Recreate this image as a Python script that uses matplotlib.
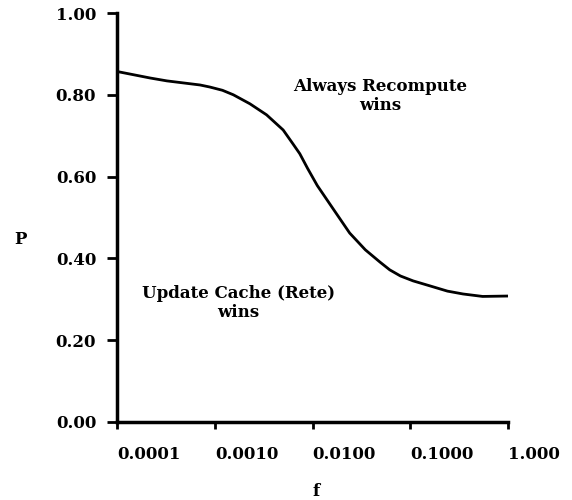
import numpy as np
import matplotlib
matplotlib.use('Agg')
from matplotlib import pyplot as plt

# values (f on a log scale)
f_vals = [1.0e-4, 2.19e-4, 3.24e-4, 7.08e-4, 8.91e-4, 1.20e-3, 1.55e-3, 2.29e-3,
          3.39e-3, 5.01e-3, 6.31e-3, 7.41e-3, 8.91e-3, 1.12e-2, 1.66e-2, 2.40e-2,
          3.47e-2, 4.90e-2, 6.17e-2, 7.94e-2, 0.107, 0.158, 0.240, 0.347, 0.550, 1.0]
p_vals = [0.857, 0.841, 0.834, 0.824, 0.819, 0.811, 0.800, 0.778,
          0.751, 0.714, 0.680, 0.656, 0.620, 0.578, 0.518, 0.462,
          0.421, 0.391, 0.372, 0.357, 0.345, 0.333, 0.320, 0.313, 0.307, 0.308]

x_ticks = [1e-4, 1e-3, 1e-2, 1e-1, 1.0]
x_tick_labels = ['0.0001', '0.0010', '0.0100', '0.1000', '1.000']
y_ticks = [0.0, 0.2, 0.4, 0.6, 0.8, 1.0]
y_tick_labels = ['0.00', '0.20', '0.40', '0.60', '0.80', '1.00']

plt.rcParams['font.family'] = ['DejaVu Serif']
plt.rcParams['font.weight'] = 'bold'

fig = plt.figure(figsize=(5.72, 5.0), dpi=100)
ax = fig.add_axes([117/572, 78/500, (508-117)/572, (422-13)/500])

ax.plot(f_vals, p_vals, color='black', linewidth=2.0, solid_joinstyle='round')

ax.set_xscale('log')
ax.set_xlim(1e-4, 1.0)
ax.set_ylim(0.0, 1.0)
ax.minorticks_off()

ax.set_xticks(x_ticks)
ax.set_xticklabels(x_tick_labels, ha='left', fontsize=12, fontweight='bold')
ax.set_yticks(y_ticks)
ax.set_yticklabels(y_tick_labels, fontsize=12, fontweight='bold')

ax.tick_params(axis='x', direction='out', length=5, width=2, pad=12)
ax.tick_params(axis='y', direction='out', length=7, width=2, pad=8)

for s in ['top', 'right']:
    ax.spines[s].set_visible(False)
for s in ['left', 'bottom']:
    ax.spines[s].set_linewidth(2.5)

ax.text(0.049, 0.797, 'Always Recompute\nwins', ha='center', va='center',
        fontsize=12, fontweight='bold', linespacing=1.1)
ax.text(1.75e-3, 0.291, 'Update Cache (Rete)\nwins', ha='center', va='center',
        fontsize=12, fontweight='bold', linespacing=1.1)

fig.text(20/572, 1 - 240/500, 'P', ha='center', va='center', fontsize=12, fontweight='bold')
fig.text(316/572, 1 - 492/500, 'f', ha='center', va='center', fontsize=12, fontweight='bold')

plt.savefig('out.png', dpi=100)
